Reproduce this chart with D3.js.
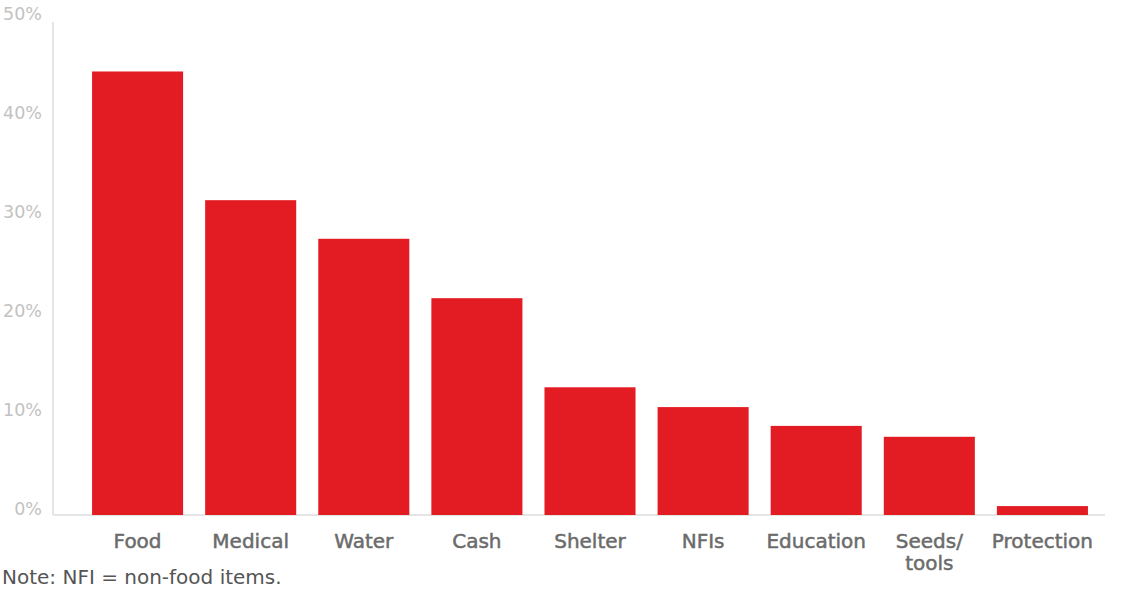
<!DOCTYPE html>
<html>
<head>
<meta charset="utf-8">
<script src="https://cdn.jsdelivr.net/npm/d3@7"></script>
<style>
  body { margin: 0; background: #fff; }
  text { font-family: "DejaVu Sans", sans-serif; }
</style>
</head>
<body>
<svg width="1126" height="590"></svg>
<script>
// categories and shares (percent)
var categories = ["Food", "Medical", "Water", "Cash", "Shelter", "NFIs", "Education", "Seeds/\ntools", "Protection"];
var values = [44.8, 31.8, 27.9, 21.9, 12.9, 10.9, 9.0, 7.9, 0.9];
var yTicks = [0, 10, 20, 30, 40, 50];
var note = "Note: NFI = non-food items.";

var svg = d3.select("svg"),
    width = +svg.attr("width"),
    height = +svg.attr("height");

var x = d3.scaleBand()
    .domain(categories)
    .range([70, 1110])
    .padding(0.195);

var y = d3.scaleLinear()
    .domain([0, 50])
    .range([515, 20]);

// vertical axis line
svg.append("line")
    .attr("x1", 53).attr("x2", 53)
    .attr("y1", 22).attr("y2", y(0))
    .attr("stroke", "#dcdcdc")
    .attr("stroke-width", 1.5);

// baseline
svg.append("line")
    .attr("x1", 53).attr("x2", 1105)
    .attr("y1", y(0)).attr("y2", y(0))
    .attr("stroke", "#dcdcdc")
    .attr("stroke-width", 1.5);

// tick labels
svg.append("g").selectAll("text")
    .data(yTicks)
    .enter().append("text")
    .attr("x", 42)
    .attr("y", function (d) { return y(d) - 6; })
    .attr("dy", "0.35em")
    .attr("text-anchor", "end")
    .attr("fill", "#c2c2c2")
    .style("font-size", "17.5px")
    .text(function (d) { return d + "%"; });

// bars
svg.append("g").selectAll("rect")
    .data(values)
    .enter().append("rect")
    .attr("x", function (d, i) { return x(categories[i]); })
    .attr("y", function (d) { return y(d); })
    .attr("width", x.bandwidth())
    .attr("height", function (d) { return y(0) - y(d); })
    .attr("fill", "#e31b23");

// category labels
var lab = svg.append("g").selectAll("text")
    .data(categories)
    .enter().append("text")
    .attr("x", function (d) { return x(d) + x.bandwidth() / 2; })
    .attr("y", 548)
    .attr("text-anchor", "middle")
    .attr("fill", "#6b6b6b")
    .attr("stroke", "#6b6b6b")
    .attr("stroke-width", 0.5)
    .style("font-size", "20px");

lab.each(function (d) {
    var parts = d.split("\n");
    var t = d3.select(this);
    parts.forEach(function (p, i) {
        t.append("tspan")
            .attr("x", x(d) + x.bandwidth() / 2)
            .attr("dy", i === 0 ? 0 : 22)
            .text(p);
    });
});

// note
svg.append("text")
    .attr("x", 2)
    .attr("y", 584)
    .attr("fill", "#555")
    .style("font-size", "20px")
    .text(note);
</script>
</body>
</html>
